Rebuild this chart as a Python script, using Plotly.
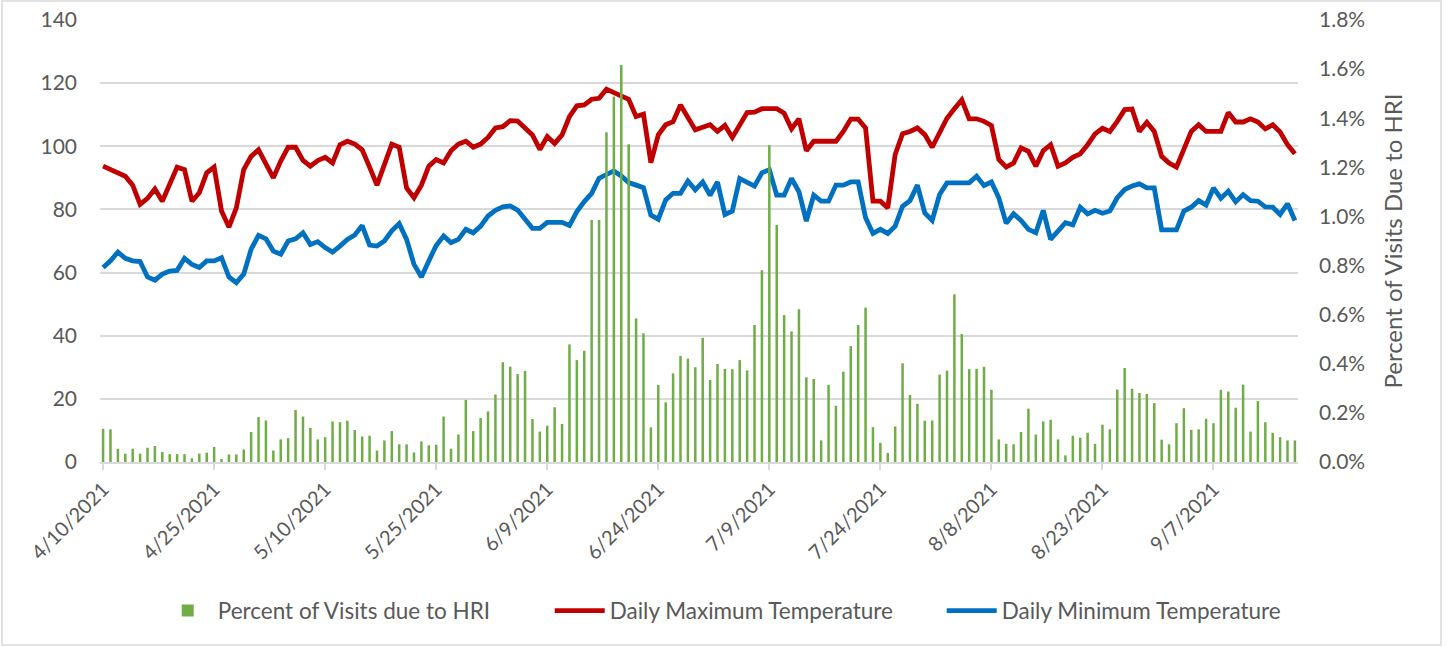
import pandas as pd
import plotly.graph_objects as go

start_date = "2021-04-10"
n_days = 162

hri_pct = [
    0.135, 0.133, 0.054, 0.034, 0.054, 0.034, 0.058, 0.065, 0.041, 0.032, 0.032, 0.032, 0.015, 0.034,
    0.038, 0.061, 0.012, 0.031, 0.031, 0.051, 0.122, 0.183, 0.169, 0.047, 0.092, 0.097, 0.212, 0.185,
    0.139, 0.092, 0.101, 0.165, 0.162, 0.168, 0.130, 0.104, 0.107, 0.047, 0.088, 0.126, 0.072, 0.072,
    0.039, 0.084, 0.068, 0.070, 0.185, 0.054, 0.112, 0.253, 0.126, 0.179, 0.206, 0.275, 0.406,
    0.388, 0.358, 0.371, 0.175, 0.124, 0.148, 0.223, 0.155, 0.479, 0.415, 0.453, 0.986, 0.986, 1.343,
    1.488, 1.617, 1.294, 0.585, 0.524, 0.141, 0.314, 0.243, 0.361, 0.432, 0.421, 0.386, 0.506,
    0.334, 0.399, 0.379, 0.378, 0.415, 0.373, 0.558, 0.781, 1.290, 0.965, 0.598, 0.532, 0.622, 0.345,
    0.338, 0.088, 0.314, 0.229, 0.368, 0.472, 0.558, 0.629, 0.142, 0.078, 0.037, 0.145, 0.402,
    0.273, 0.237, 0.168, 0.169, 0.356, 0.372, 0.683, 0.521, 0.378, 0.379, 0.388, 0.294, 0.092, 0.074,
    0.072, 0.122, 0.217, 0.112, 0.165, 0.172, 0.092, 0.027, 0.107, 0.099, 0.119, 0.074, 0.152,
    0.133, 0.295, 0.383, 0.298, 0.281, 0.277, 0.240, 0.091, 0.072, 0.158, 0.219, 0.131, 0.133, 0.176,
    0.158, 0.294, 0.287, 0.221, 0.315, 0.124, 0.248, 0.162, 0.119, 0.101, 0.088, 0.088,
]

tmax = [
    93.7, 92.6, 91.6, 90.5, 87.7, 81.6, 83.5, 86.5, 82.6, 87.9, 93.4, 92.6, 82.6, 85.3,
    91.6, 93.4, 79.5, 74.4, 80.5, 92.6, 96.8, 98.9, 94.7, 90.0, 95.3, 99.7, 99.7, 95.5,
    93.7, 95.5, 96.5, 94.7, 100.5, 101.6, 100.7, 98.9, 93.4, 87.7, 94.2, 100.7, 99.7, 86.8,
    83.7, 87.7, 93.7, 95.8, 94.7, 98.6, 100.7, 101.6, 99.7, 100.7, 102.8, 105.8, 106.2,
    108.1, 108.0, 105.7, 103.6, 99.0, 103.1, 100.9, 103.6, 109.4, 112.8, 113.1, 114.9, 115.2, 118.1,
    117.0, 115.9, 114.9, 109.4, 110.2, 94.8, 103.6, 106.8, 107.8, 113.1, 108.9, 105.2, 106.0,
    106.8, 104.7, 106.6, 102.8, 106.8, 110.7, 110.8, 111.9, 111.9, 111.9, 110.5, 105.5, 108.7, 98.6,
    101.6, 101.6, 101.6, 101.6, 104.7, 108.6, 108.6, 105.8, 82.6, 82.6, 80.5, 97.4, 104.0,
    104.7, 105.8, 103.7, 99.7, 104.7, 108.9, 111.9, 114.7, 108.7, 108.7, 107.9, 106.6, 95.8, 93.4,
    94.7, 99.5, 98.4, 93.7, 98.6, 100.5, 93.7, 94.7, 96.5, 97.6, 100.5, 103.9, 105.7,
    104.7, 107.9, 111.6, 111.8, 104.7, 107.6, 104.7, 96.8, 94.7, 93.4, 99.3, 104.7, 106.8, 104.7,
    104.7, 104.7, 110.7, 107.7, 107.7, 108.7, 107.7, 105.5, 106.8, 104.5, 100.5, 97.6,
]

tmin = [
    61.6, 63.7, 66.5, 64.5, 63.7, 63.5, 58.6, 57.6, 59.5, 60.5, 60.7, 64.5, 62.6, 61.6,
    63.7, 63.7, 64.7, 58.6, 56.8, 59.5, 67.4, 71.8, 70.7, 66.8, 65.8, 70.0, 70.7, 72.6,
    68.9, 69.8, 67.9, 66.5, 68.4, 70.5, 71.9, 74.9, 68.7, 68.4, 70.0, 73.2, 75.5, 70.5,
    62.6, 58.6, 63.7, 68.6, 71.6, 69.5, 70.5, 73.7, 72.6, 74.7, 77.9, 79.7, 80.8,
    81.1, 79.8, 76.9, 74.0, 74.0, 75.9, 75.9, 75.9, 74.9, 79.3, 82.5, 85.1, 89.9, 91.2,
    92.2, 90.6, 88.5, 87.7, 86.9, 78.2, 76.9, 83.0, 85.1, 85.1, 89.0, 86.2, 88.7,
    84.5, 88.7, 78.4, 79.5, 89.8, 88.7, 87.4, 91.6, 92.6, 84.5, 84.5, 89.8, 85.6, 76.3,
    84.5, 82.6, 82.6, 87.7, 87.7, 88.7, 88.7, 77.4, 72.4, 73.7, 72.4, 74.7, 81.0,
    82.8, 87.7, 78.9, 76.5, 84.7, 88.4, 88.4, 88.4, 88.4, 90.5, 87.6, 88.7, 83.7, 75.6,
    78.6, 76.5, 73.7, 72.6, 79.7, 70.5, 73.2, 75.8, 75.1, 80.7, 78.6, 79.7, 78.8,
    79.5, 83.7, 86.3, 87.4, 88.1, 86.8, 86.8, 73.5, 73.5, 73.5, 79.5, 80.7, 82.8, 81.4,
    86.8, 83.5, 85.8, 82.4, 84.7, 82.8, 82.6, 80.8, 80.7, 78.4, 81.8, 76.5,
]

tick_dates = ["2021-04-10", "2021-04-25", "2021-05-10", "2021-05-25", "2021-06-09", "2021-06-24",
              "2021-07-09", "2021-07-24", "2021-08-08", "2021-08-23", "2021-09-07"]

series_names = ["Percent of Visits due to HRI", "Daily Maximum Temperature", "Daily Minimum Temperature"]

dates = pd.date_range(start_date, periods=n_days, freq="D")

TXT = "#595959"
GRID = "#d9d9d9"
FONT = "Lato"
DAY_MS = 86400000

fig = go.Figure()
fig.add_trace(go.Bar(x=dates, y=hri_pct, name=series_names[0], marker_color="#70AD47",
                     marker_line_width=0, width=0.34 * DAY_MS, yaxis="y2"))
fig.add_trace(go.Scatter(x=dates, y=tmax, name=series_names[1], mode="lines",
                         line=dict(color="#C00000", width=4.8), yaxis="y"))
fig.add_trace(go.Scatter(x=dates, y=tmin, name=series_names[2], mode="lines",
                         line=dict(color="#0070C0", width=4.8), yaxis="y"))

x0 = pd.Timestamp(dates[0]) - pd.Timedelta(hours=10)
x1 = pd.Timestamp(dates[-1]) + pd.Timedelta(hours=10)

fig.update_layout(
    width=1448, height=647,
    margin=dict(l=100, r=150, t=20, b=185, autoexpand=False),
    paper_bgcolor="white", plot_bgcolor="white",
    font=dict(family=FONT, size=20, color=TXT),
    barmode="overlay",
    showlegend=True,
    legend=dict(orientation="h", x=0.539, xanchor="center", y=-0.337, yanchor="middle",
                traceorder="normal", font=dict(size=22.5, color=TXT),
                itemwidth=50, entrywidth=327, entrywidthmode="pixels"),
    xaxis=dict(type="date", range=[x0, x1], tickvals=tick_dates, tickformat="%-m/%-d/%Y",
               tickangle=-45, showgrid=False, showline=True, linecolor=GRID, linewidth=1.5,
               ticks="outside", ticklen=6, tickcolor=GRID, tickwidth=1.5, automargin=False,
               tickfont=dict(size=20, color=TXT), zeroline=False),
    yaxis=dict(range=[0, 140], dtick=20, showgrid=True, gridcolor=GRID, gridwidth=1.5,
               zeroline=False, showline=False, ticks="", tickfont=dict(size=21, color=TXT),
               ticklabelstandoff=22, automargin=False),
    yaxis2=dict(range=[0, 1.8], dtick=0.2, tickformat=".1f", ticksuffix="%", overlaying="y",
                side="right", showgrid=False, zeroline=False, showline=False, ticks="",
                tickfont=dict(size=21, color=TXT), ticklabelstandoff=20, automargin=False,
                title=dict(text="Percent of Visits Due to HRI", font=dict(size=24, color=TXT),
                           standoff=21)),
    shapes=[dict(type="rect", xref="paper", yref="paper",
                 x0=(2 - 100) / 1198, x1=(1441 - 100) / 1198,
                 y0=(462 - 645) / 442, y1=(462 - 1) / 442,
                 line=dict(color=GRID, width=1.5), fillcolor="rgba(0,0,0,0)", layer="below")],
)

fig.write_html("out.html", config={"displayModeBar": False},
               post_script="document.body.style.margin='0';document.body.style.overflow='hidden';")
